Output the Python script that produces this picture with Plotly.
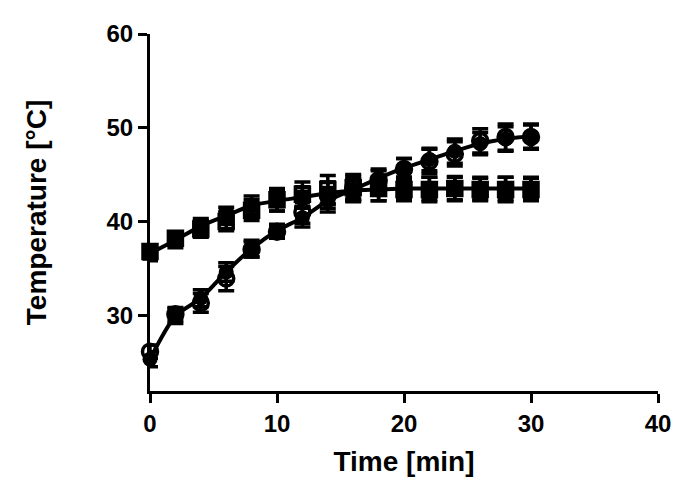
import plotly.graph_objects as go

time_min = [0, 2, 4, 6, 8, 10, 12, 14, 16, 18, 20, 22, 24, 26, 28, 30]

# lower curve groups
low_filled = [25.3, 29.9, 31.8, 34.6, 37.1, 39.0, 40.4, 42.2, 43.4, 44.6, 45.7, 46.6, 47.5, 48.3, 48.8, 49.1]
low_filled_err = [0.8, 0.8, 0.9, 1.0, 0.9, 0.7, 1.0, 1.2, 1.1, 1.0, 1.0, 1.2, 1.3, 1.2, 1.3, 1.3]
low_open = [26.1, 30.1, 31.3, 33.9, 37.0, 38.9, 41.0, 42.8, 43.6, 44.4, 45.6, 46.4, 47.2, 48.6, 49.0, 49.0]
low_open_err = [0.7, 0.7, 1.0, 1.3, 0.8, 0.7, 1.2, 1.4, 1.2, 1.0, 1.1, 1.3, 1.3, 1.3, 1.4, 1.3]

# upper curve groups
up_filled = [36.6, 38.0, 39.5, 40.6, 41.7, 42.2, 42.6, 43.0, 43.3, 43.4, 43.5, 43.5, 43.5, 43.5, 43.5, 43.5]
up_filled_err = [0.8, 0.8, 0.8, 0.9, 1.0, 1.1, 1.1, 1.2, 1.2, 1.2, 1.2, 1.2, 1.2, 1.2, 1.2, 1.2]
up_open = [36.8, 38.2, 39.2, 40.0, 41.2, 42.3, 42.9, 43.4, 43.6, 43.5, 43.4, 43.4, 43.5, 43.4, 43.4, 43.4]
up_open_err = [0.7, 0.7, 0.9, 1.0, 1.1, 1.2, 1.3, 1.5, 1.4, 1.3, 1.2, 1.3, 1.3, 1.2, 1.3, 1.2]

x_ticks = [0, 10, 20, 30, 40]
y_ticks = [30, 40, 50, 60]

FONT = "Liberation Sans, Arial, sans-serif"

def err(vals):
    return dict(type="data", array=vals, visible=True, color="black", thickness=3.5, width=8)

fig = go.Figure()

# fitted lines (through group means)
fig.add_trace(go.Scatter(x=time_min, y=low_filled, mode="lines",
                         line=dict(color="black", width=4, shape="spline", smoothing=0.8),
                         cliponaxis=False, showlegend=False, hoverinfo="skip"))
fig.add_trace(go.Scatter(x=time_min, y=up_filled, mode="lines",
                         line=dict(color="black", width=4, shape="spline", smoothing=0.8),
                         cliponaxis=False, showlegend=False, hoverinfo="skip"))

fig.add_trace(go.Scatter(x=time_min, y=up_open, mode="markers", error_y=err(up_open_err),
                         marker=dict(symbol="square-open", size=14, color="black", line=dict(width=3.5)),
                         cliponaxis=False, showlegend=False))
fig.add_trace(go.Scatter(x=time_min, y=up_filled, mode="markers", error_y=err(up_filled_err),
                         marker=dict(symbol="square", size=15, color="black"),
                         cliponaxis=False, showlegend=False))
fig.add_trace(go.Scatter(x=time_min, y=low_filled, mode="markers", error_y=err(low_filled_err),
                         marker=dict(symbol="circle", size=15, color="black"),
                         cliponaxis=False, showlegend=False))
fig.add_trace(go.Scatter(x=time_min, y=low_open, mode="markers", error_y=err(low_open_err),
                         marker=dict(symbol="circle-open", size=15, color="black", line=dict(width=3.5)),
                         cliponaxis=False, showlegend=False))

fig.update_layout(
    width=685, height=494,
    margin=dict(l=142, r=35, t=20, b=111),
    paper_bgcolor="white", plot_bgcolor="white",
    font=dict(family=FONT, color="black"),
)
fig.update_xaxes(
    range=[0, 40], tickvals=x_ticks, ticktext=[str(v) for v in x_ticks],
    showgrid=False, zeroline=False, showline=True, linecolor="black", linewidth=3,
    ticks="outside", ticklen=9, tickwidth=3, tickcolor="black",
    tickfont=dict(family=FONT, size=24, color="black", weight="bold"),
    title=dict(text="<b>Time [min]</b>", font=dict(family=FONT, size=28, color="black"), standoff=16),
)
fig.update_yaxes(
    range=[21.9, 60], tickvals=y_ticks, ticktext=[str(v) for v in y_ticks],
    showgrid=False, zeroline=False, showline=True, linecolor="black", linewidth=3,
    ticks="outside", ticklen=9, tickwidth=3, tickcolor="black",
    tickfont=dict(family=FONT, size=24, color="black", weight="bold"),
    title=dict(text="<b>Temperature [°C]</b>", font=dict(family=FONT, size=28, color="black"), standoff=52),
)

fig.write_html("out.html")
